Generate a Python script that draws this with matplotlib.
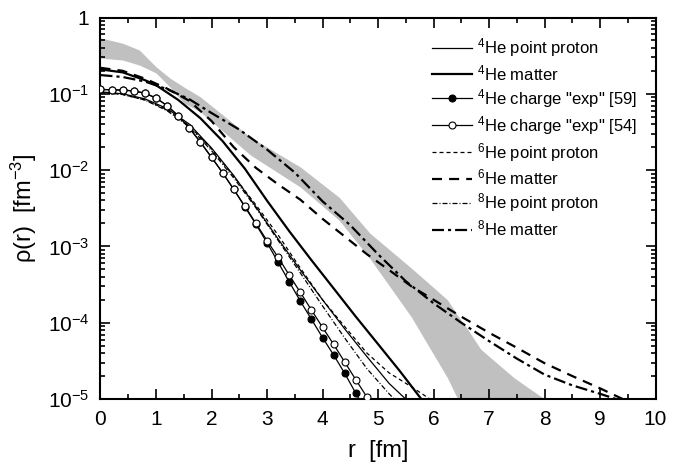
import numpy as np
import matplotlib
matplotlib.use("Agg")
import matplotlib.pyplot as plt
from matplotlib.ticker import FixedLocator, FuncFormatter, LogLocator, NullFormatter

plt.rcParams['font.family'] = ['Liberation Sans', 'DejaVu Sans']
plt.rcParams['mathtext.fontset'] = 'custom'
plt.rcParams['mathtext.rm'] = 'Liberation Sans'
plt.rcParams['mathtext.it'] = 'Liberation Sans:italic'
plt.rcParams['mathtext.bf'] = 'Liberation Sans:bold'

# ---- shaded band (upper / lower edge), r in fm, rho in fm^-3 ----
band_r     = [0.0, 0.4, 0.7, 1.0, 1.25, 1.5, 1.8, 2.7, 3.6, 4.3, 4.85, 5.6, 6.25, 6.45, 6.6, 6.85, 7.45, 8.0, 8.2]
band_upper = [0.54, 0.46, 0.375, 0.226, 0.161, 0.123, 0.091, 0.027, 0.011, 0.0044, 0.0015, 5.2e-4, 2.0e-4, 1.2e-4, 8.5e-5, 4.5e-5, 1.9e-5, 1.0e-5, 8e-6]
band_lower = [0.294, 0.277, 0.238, 0.188, 0.123, 0.076, 0.058, 0.0158, 0.0060, 0.0022, 7.0e-4, 1.19e-4, 1.9e-5, 9.5e-6, 6e-6, 3e-6, 1e-6, 1e-6, 1e-6]

# ---- 4He ----
he4_pp_r   = [0.0, 0.4, 0.8, 1.2, 1.6, 2.0, 2.4, 2.8, 3.2, 3.6, 4.0, 4.4, 4.8, 5.2, 5.6]
he4_pp     = [0.106, 0.100, 0.086, 0.064, 0.040, 0.0195, 0.0085, 0.0033, 1.25e-3, 4.9e-4, 2.0e-4, 8.3e-5, 3.6e-5, 1.6e-5, 8.5e-6]
he4_m_r    = [0.0, 0.4, 0.8, 1.0, 1.4, 1.8, 2.2, 2.6, 3.0, 3.4, 3.8, 4.2, 4.6, 5.0, 5.4, 5.8]
he4_m      = [0.209, 0.191, 0.151, 0.130, 0.0832, 0.0479, 0.0240, 0.01047, 0.00398, 1.585e-3, 6.61e-4, 2.82e-4, 1.20e-4,
              5.25e-5, 2.29e-5, 9.55e-6]
exp_r      = [0.0, 0.2, 0.4, 0.6, 0.8, 1.0, 1.2, 1.4, 1.6, 1.8, 2.0, 2.2, 2.4, 2.6, 2.8, 3.0, 3.2, 3.4, 3.6, 3.8, 4.0, 4.2, 4.4, 4.6, 4.8]
exp59      = [0.114, 0.113, 0.112, 0.109, 0.102, 0.088, 0.070, 0.0516, 0.0356, 0.0233, 0.0147, 0.00925, 0.0056, 0.0033, 1.95e-3,
              1.12e-3, 6.2e-4, 3.44e-4, 1.92e-4, 1.11e-4, 6.4e-5, 3.78e-5, 2.17e-5, 1.19e-5, 6.5e-6]
exp54      = [0.114, 0.113, 0.112, 0.109, 0.102, 0.088, 0.070, 0.0516, 0.0356, 0.0233, 0.0147, 0.00925, 0.0056, 0.00338, 2.01e-3,
              1.19e-3, 7.2e-4, 4.22e-4, 2.50e-4, 1.47e-4, 8.7e-5, 5.2e-5, 3.05e-5, 1.79e-5, 1.06e-5]

# ---- 6He ----
he6_pp_r   = [0.0, 0.4, 0.8, 1.2, 1.6, 2.0, 2.4, 2.8, 3.2, 3.6, 4.0, 4.4, 4.8, 5.2, 5.6, 6.0]
he6_pp     = [0.105, 0.098, 0.083, 0.062, 0.038, 0.019, 0.0083, 0.0035, 1.41e-3, 5.2e-4, 2.0e-4, 8.9e-5, 4.0e-5, 2.2e-5, 1.45e-5, 9.3e-6]
he6_m_r    = [0.0, 0.4, 0.8, 1.2, 1.6, 2.0, 2.4, 2.8, 3.2, 3.6, 4.0, 4.4, 4.8, 5.2, 5.6, 6.0, 6.5, 7.0, 7.5, 8.0, 8.5, 9.0, 9.5]
he6_m      = [0.219, 0.20, 0.158, 0.117, 0.081, 0.044, 0.020, 0.0107, 6.5e-3, 4.1e-3, 2.3e-3, 1.35e-3, 7.9e-4, 4.9e-4, 3.0e-4,
              2.0e-4, 1.2e-4, 7.4e-5, 4.7e-5, 2.95e-5, 2.0e-5, 1.38e-5, 9.3e-6]

# ---- 8He ----
he8_pp_r   = [0.0, 0.4, 0.8, 1.2, 1.6, 2.0, 2.4, 2.8, 3.2, 3.6, 4.0, 4.4, 4.8, 5.2, 5.5]
he8_pp     = [0.104, 0.098, 0.083, 0.060, 0.037, 0.018, 0.0079, 0.0032, 1.2e-3, 4.5e-4, 1.66e-4, 6.3e-5, 2.5e-5, 1.17e-5, 7e-6]
he8_m_r    = [0.0, 0.4, 0.8, 1.2, 1.6, 2.0, 2.5, 3.0, 3.5, 4.0, 4.5, 5.0, 5.5, 6.0, 6.5, 7.0, 7.5, 8.0, 8.5, 9.0, 9.5]
he8_m      = [0.176, 0.166, 0.145, 0.115, 0.085, 0.056, 0.034, 0.0186, 9.3e-3, 3.9e-3, 1.9e-3, 7.9e-4, 3.5e-4, 1.8e-4, 1.0e-4,
              5.75e-5, 3.39e-5, 2.09e-5, 1.51e-5, 1.17e-5, 8.9e-6]

xticks = [0, 1, 2, 3, 4, 5, 6, 7, 8, 9, 10]

fig = plt.figure(figsize=(6.85, 4.68), dpi=100)
ax = fig.add_axes([0.1467, 0.1474, 0.8103, 0.8152])

ax.fill_between(band_r, band_lower, band_upper, color='#c0c0c0', lw=0, zorder=1)

ax.plot(he4_pp_r, he4_pp, color='k', lw=0.9, label=r'$\mathregular{^4}$He point proton', zorder=3)
ax.plot(he4_m_r, he4_m, color='k', lw=1.6, label=r'$\mathregular{^4}$He matter', zorder=3)
ax.plot(exp_r, exp59, color='k', lw=0.9, marker='o', ms=5, mfc='k', mec='k', mew=0.8,
        label=r'$\mathregular{^4}$He charge "exp" [59]', zorder=4)
ax.plot(exp_r, exp54, color='k', lw=0.9, marker='o', ms=5, mfc='white', mec='k', mew=0.8,
        label=r'$\mathregular{^4}$He charge "exp" [54]', zorder=5)
ax.plot(he6_pp_r, he6_pp, color='k', lw=0.9, ls=(0, (3.2, 2.4)), label=r'$\mathregular{^6}$He point proton', zorder=3)
ax.plot(he6_m_r, he6_m, color='k', lw=1.6, ls=(0, (4.5, 3.2)), label=r'$\mathregular{^6}$He matter', zorder=3)
ax.plot(he8_pp_r, he8_pp, color='k', lw=0.9, ls=(0, (4, 1.6, 0.8, 1.6)), label=r'$\mathregular{^8}$He point proton', zorder=3)
ax.plot(he8_m_r, he8_m, color='k', lw=1.6, ls=(0, (5.4, 1.8, 1.4, 1.8)), label=r'$\mathregular{^8}$He matter', zorder=3)

ax.set_yscale('log')
ax.set_xlim(0, 10)
ax.set_ylim(1e-5, 1)

ax.xaxis.set_major_locator(FixedLocator(xticks))
ax.xaxis.set_minor_locator(FixedLocator(np.arange(0.5, 10, 1.0)))
ax.yaxis.set_major_locator(LogLocator(base=10, numticks=10))
ax.yaxis.set_minor_locator(LogLocator(base=10, subs=np.arange(2, 10), numticks=20))
ax.yaxis.set_minor_formatter(NullFormatter())


def ylab(v, pos):
    e = int(round(np.log10(v)))
    if e == 0:
        return '1'
    return r'$\mathregular{10^{%d}}$' % e


ax.yaxis.set_major_formatter(FuncFormatter(ylab))

ax.tick_params(which='both', direction='in', top=True, right=True, labelsize=15, width=1.2, pad=8)
ax.tick_params(which='major', length=7)
ax.tick_params(which='minor', length=3.5)
for s in ax.spines.values():
    s.set_linewidth(1.5)

ax.set_xlabel('r  [fm]', fontsize=17, labelpad=8)
ax.set_ylabel(r'$\mathregular{\rho(r)}$  [fm$\mathregular{^{-3}}$]', fontsize=17, labelpad=6)

leg = ax.legend(loc='upper left', bbox_to_anchor=(0.597, 0.951), frameon=False, fontsize=12,
                handlelength=2.4, handletextpad=0.3, labelspacing=0.24, borderaxespad=0.0, borderpad=0.0)

fig.savefig('out.png', dpi=100)
